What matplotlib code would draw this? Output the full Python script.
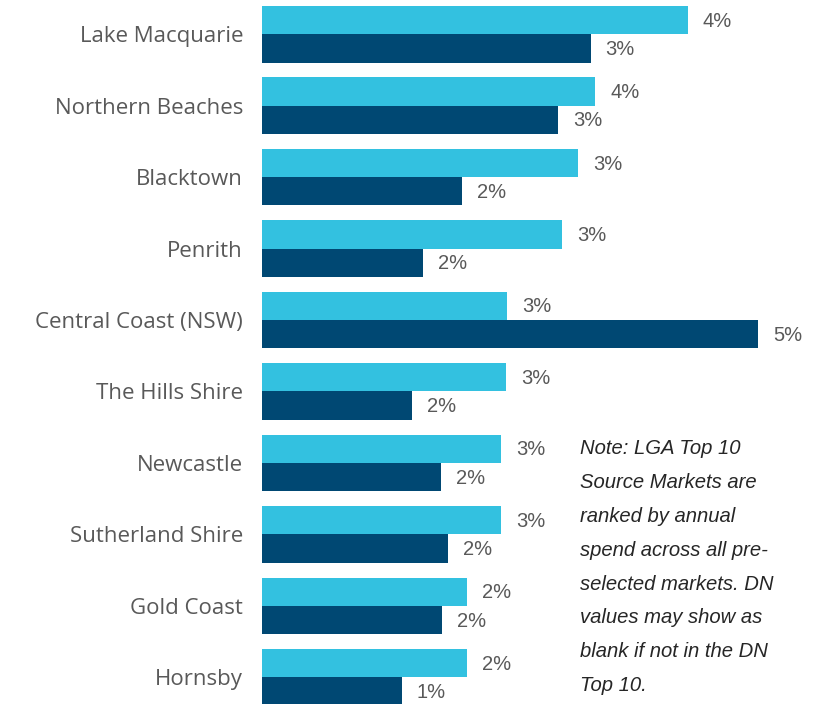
import matplotlib
matplotlib.use("Agg")
import matplotlib.pyplot as plt
import numpy as np

# Top 10 LGA source markets, share of spend (%)
markets = [
    "Lake Macquarie", "Northern Beaches", "Blacktown", "Penrith",
    "Central Coast (NSW)", "The Hills Shire", "Newcastle",
    "Sutherland Shire", "Gold Coast", "Hornsby",
]
lga_share = [4.48, 3.51, 3.33, 3.16, 2.58, 2.57, 2.52, 2.52, 2.16, 2.16]
dn_share = [3.46, 3.12, 2.11, 1.69, 5.22, 1.58, 1.88, 1.96, 1.89, 1.47]

note_lines = [
    "Note: LGA Top 10",
    "Source Markets are",
    "ranked by annual",
    "spend across all pre-",
    "selected markets. DN",
    "values may show as",
    "blank if not in the DN",
    "Top 10.",
]

LIGHT = "#33C1E0"
DARK = "#004873"
GREY = "#595959"

W, H, DPI = 819, 704, 100
fig = plt.figure(figsize=(W / DPI, H / DPI), dpi=DPI)

xmax = 5.5
px_per_unit = 95.0
left_px = 262
ax = fig.add_axes([left_px / W, 0, xmax * px_per_unit / W, 1])

n = len(markets)
y = np.arange(n)
bh = 0.396
ax.barh(y - bh / 2, lga_share, height=bh, color=LIGHT, linewidth=0)
ax.barh(y + bh / 2, dn_share, height=bh, color=DARK, linewidth=0)

pitch_px = 71.44
top = -bh - 6 / pitch_px
ax.set_ylim(top + H / pitch_px, top)
ax.set_xlim(0, xmax)

offset = 15 / px_per_unit
lift = 0.015
for i in range(n):
    ax.text(lga_share[i] + offset, y[i] - bh / 2 + lift, f"{lga_share[i]:.0f}%",
            va="center", ha="left", fontsize=14.5, color=GREY,
            family="Liberation Sans", clip_on=False)
    ax.text(dn_share[i] + offset, y[i] + bh / 2 + lift, f"{dn_share[i]:.0f}%",
            va="center", ha="left", fontsize=14.5, color=GREY,
            family="Liberation Sans", clip_on=False)

ax.set_yticks(y)
ax.set_yticklabels(markets, fontsize=16, color=GREY, family="Open Sans")
ax.tick_params(axis="y", length=0, pad=19 * 72 / DPI)
ax.set_xticks([])
for s in ax.spines.values():
    s.set_visible(False)

# Footnote, one line at a time
for k, line in enumerate(note_lines):
    fig.text(580 / W, 1 - (454.3 + 33.8 * k) / H, line, ha="left",
             va="baseline", fontsize=14.6, style="italic", color="#262626",
             family="Liberation Sans")

fig.savefig("out.png", dpi=DPI)
